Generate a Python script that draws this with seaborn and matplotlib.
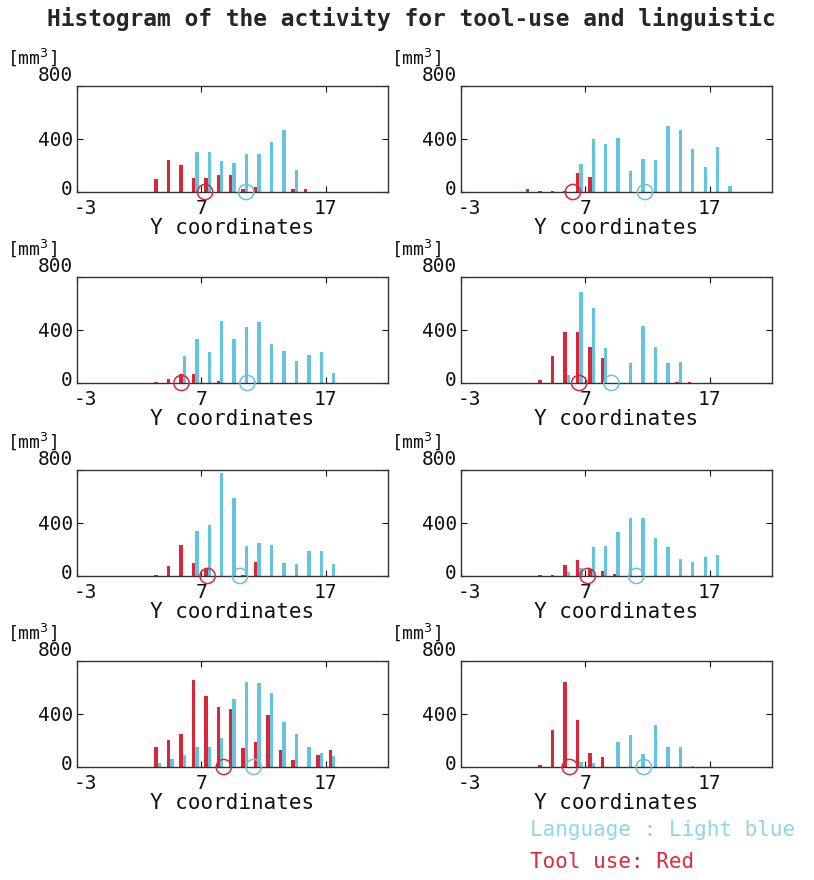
import pandas as pd
import seaborn as sns
import matplotlib.pyplot as plt
import matplotlib.transforms as mtransforms

# bin centres along the Y coordinate (1 mm bins)
bin_centers = [-2.5, -1.5, -0.5, 0.5, 1.5, 2.5, 3.5, 4.5, 5.5, 6.5, 7.5,
               8.5, 9.5, 10.5, 11.5, 12.5, 13.5, 14.5, 15.5, 16.5, 17.5, 18.5]

# activity volume [mm3] per bin, one list per panel (row by row)
tool_1 = [0, 0, 0, 0, 0, 0, 100, 245, 206, 103, 103, 129, 129, 20, 40, 0, 0, 25, 25, 0, 0, 0]
lang_1 = [0, 0, 0, 0, 0, 0, 0, 0, 0, 300, 300, 232, 220, 289, 284, 379, 465, 168, 0, 0, 0, 0]
tool_2 = [0, 0, 0, 0, 0, 20, 10, 10, 5, 140, 110, 0, 0, 0, 0, 0, 0, 0, 0, 0, 0, 0]
lang_2 = [0, 0, 0, 0, 0, 0, 0, 0, 0, 210, 400, 362, 405, 160, 248, 240, 501, 468, 324, 185, 342, 46]
tool_3 = [0, 0, 0, 0, 0, 0, 10, 30, 70, 70, 0, 15, 0, 0, 0, 0, 0, 0, 0, 0, 0, 0]
lang_3 = [0, 0, 0, 0, 0, 0, 0, 0, 206, 335, 232, 465, 335, 426, 460, 297, 245, 168, 212, 232, 77, 0]
tool_4 = [0, 0, 0, 0, 0, 0, 20, 205, 387, 387, 275, 187, 0, 0, 0, 0, 0, 10, 10, 0, 0, 0]
lang_4 = [0, 0, 0, 0, 0, 0, 0, 0, 60, 690, 562, 262, 0, 150, 430, 275, 150, 162, 0, 0, 0, 0]
tool_5 = [0, 0, 0, 0, 0, 0, 10, 72, 230, 97, 50, 0, 0, 10, 103, 0, 0, 0, 0, 0, 0, 0]
lang_5 = [0, 0, 0, 0, 0, 0, 0, 0, 0, 341, 385, 780, 590, 226, 251, 231, 97, 92, 187, 187, 92, 0]
tool_6 = [0, 0, 0, 0, 0, 0, 10, 10, 81, 118, 56, 37, 15, 0, 0, 0, 0, 0, 0, 0, 0, 0]
lang_6 = [0, 0, 0, 0, 0, 0, 0, 0, 30, 60, 216, 228, 334, 437, 437, 290, 221, 130, 105, 142, 155, 0]
tool_7 = [0, 0, 0, 0, 0, 0, 148, 205, 250, 655, 538, 455, 434, 140, 187, 390, 130, 52, 0, 88, 130, 0]
lang_7 = [0, 0, 0, 0, 0, 0, 30, 60, 90, 148, 148, 218, 512, 641, 633, 555, 343, 252, 148, 104, 83, 0]
tool_8 = [0, 0, 0, 0, 0, 0, 15, 278, 641, 356, 109, 78, 0, 0, 0, 0, 0, 0, 0, 0, 0, 0]
lang_8 = [0, 0, 0, 0, 0, 0, 0, 0, 0, 40, 30, 0, 187, 244, 96, 317, 148, 148, 10, 0, 0, 0]

tool_data = [tool_1, tool_2, tool_3, tool_4, tool_5, tool_6, tool_7, tool_8]
lang_data = [lang_1, lang_2, lang_3, lang_4, lang_5, lang_6, lang_7, lang_8]

# centre of mass of each distribution (circles on the axis)
tool_means = [7.3, 6.0, 5.4, 6.5, 7.5, 7.2, 8.8, 5.75]
lang_means = [10.6, 11.8, 10.7, 9.1, 10.1, 11.1, 11.2, 11.7]

x_ticks = [-3, 7, 17]
y_ticks = [0, 400, 800]

red = '#dc2638'
blue = '#62c4de'
palette = {'Tool use': red, 'Language': blue}

sns.set_style('ticks')
plt.rcParams['font.family'] = ['DejaVu Sans Mono', 'DejaVu Sans']

fig = plt.figure(figsize=(8.14, 8.8), dpi=100)

lefts = [0.0946, 0.5663]
bottoms = [0.7818, 0.5648, 0.3455, 0.1284]
w, h = 0.382, 0.1205


def nudge(label, dx, dy):
    # shift a tick label by (dx, dy) points
    label.set_transform(label.get_transform() +
                        mtransforms.ScaledTranslation(dx / 72, dy / 72, fig.dpi_scale_trans))


for i in range(8):
    row, col = divmod(i, 2)
    ax = fig.add_axes([lefts[col], bottoms[row], w, h])
    n = len(bin_centers)
    df = pd.DataFrame({
        'Y': bin_centers * 2,
        'volume': tool_data[i] + lang_data[i],
        'task': ['Tool use'] * n + ['Language'] * n,
    })
    sns.barplot(data=df, x='Y', y='volume', hue='task',
                hue_order=['Tool use', 'Language'], palette=palette,
                native_scale=True, width=0.55, dodge=True, errorbar=None,
                legend=False, linewidth=0, saturation=1, ax=ax)

    sns.scatterplot(x=[tool_means[i]], y=[0], color=red, facecolor='none',
                    edgecolor=red, s=120, linewidth=1.1, clip_on=False,
                    zorder=5, ax=ax)
    sns.scatterplot(x=[lang_means[i]], y=[0], color=blue, facecolor='none',
                    edgecolor=blue, s=120, linewidth=1.1, clip_on=False,
                    zorder=5, ax=ax)

    ax.set_xlim(-3, 22)
    ax.set_ylim(0, 800)
    ax.set_xticks(x_ticks)
    ax.set_xticklabels([str(t) for t in x_ticks])
    ax.set_yticks(y_ticks)
    ax.set_yticklabels([str(t) for t in y_ticks])
    ax.tick_params(direction='in', top=True, right=True, length=4,
                   labelsize=14, colors='#111111')
    ax.tick_params(axis='x', pad=5)
    ax.tick_params(axis='y', pad=3)
    # label placement as in the original: 800 above the frame, -3 a bit right
    nudge(ax.get_yticklabels()[-1], 0, 9)
    nudge(ax.get_yticklabels()[0], 0, 3)
    nudge(ax.get_xticklabels()[0], 6, 0)
    for s in ax.spines.values():
        s.set_color('#333333')
        s.set_linewidth(1.0)
    ax.set_xlabel('Y coordinates', fontsize=15, labelpad=0, color='#111111')
    ax.set_ylabel('')
    ax.text(-0.225, 1.17, r'[mm$^{3}$]', transform=ax.transAxes,
            fontsize=13, ha='left', va='bottom', color='#111111')

fig.text(0.505, 0.978, 'Histogram of the activity for tool-use and linguistic',
         ha='center', va='center', fontsize=16.5, fontweight='bold')
fig.text(530 / 814, 1 - 830 / 880, 'Language : Light blue', color='#8dd6ec',
         fontsize=15, ha='left', va='center')
fig.text(530 / 814, 1 - 862 / 880, 'Tool use: Red', color='#e02a3a',
         fontsize=15, ha='left', va='center')

fig.savefig('out.png', dpi=100)
